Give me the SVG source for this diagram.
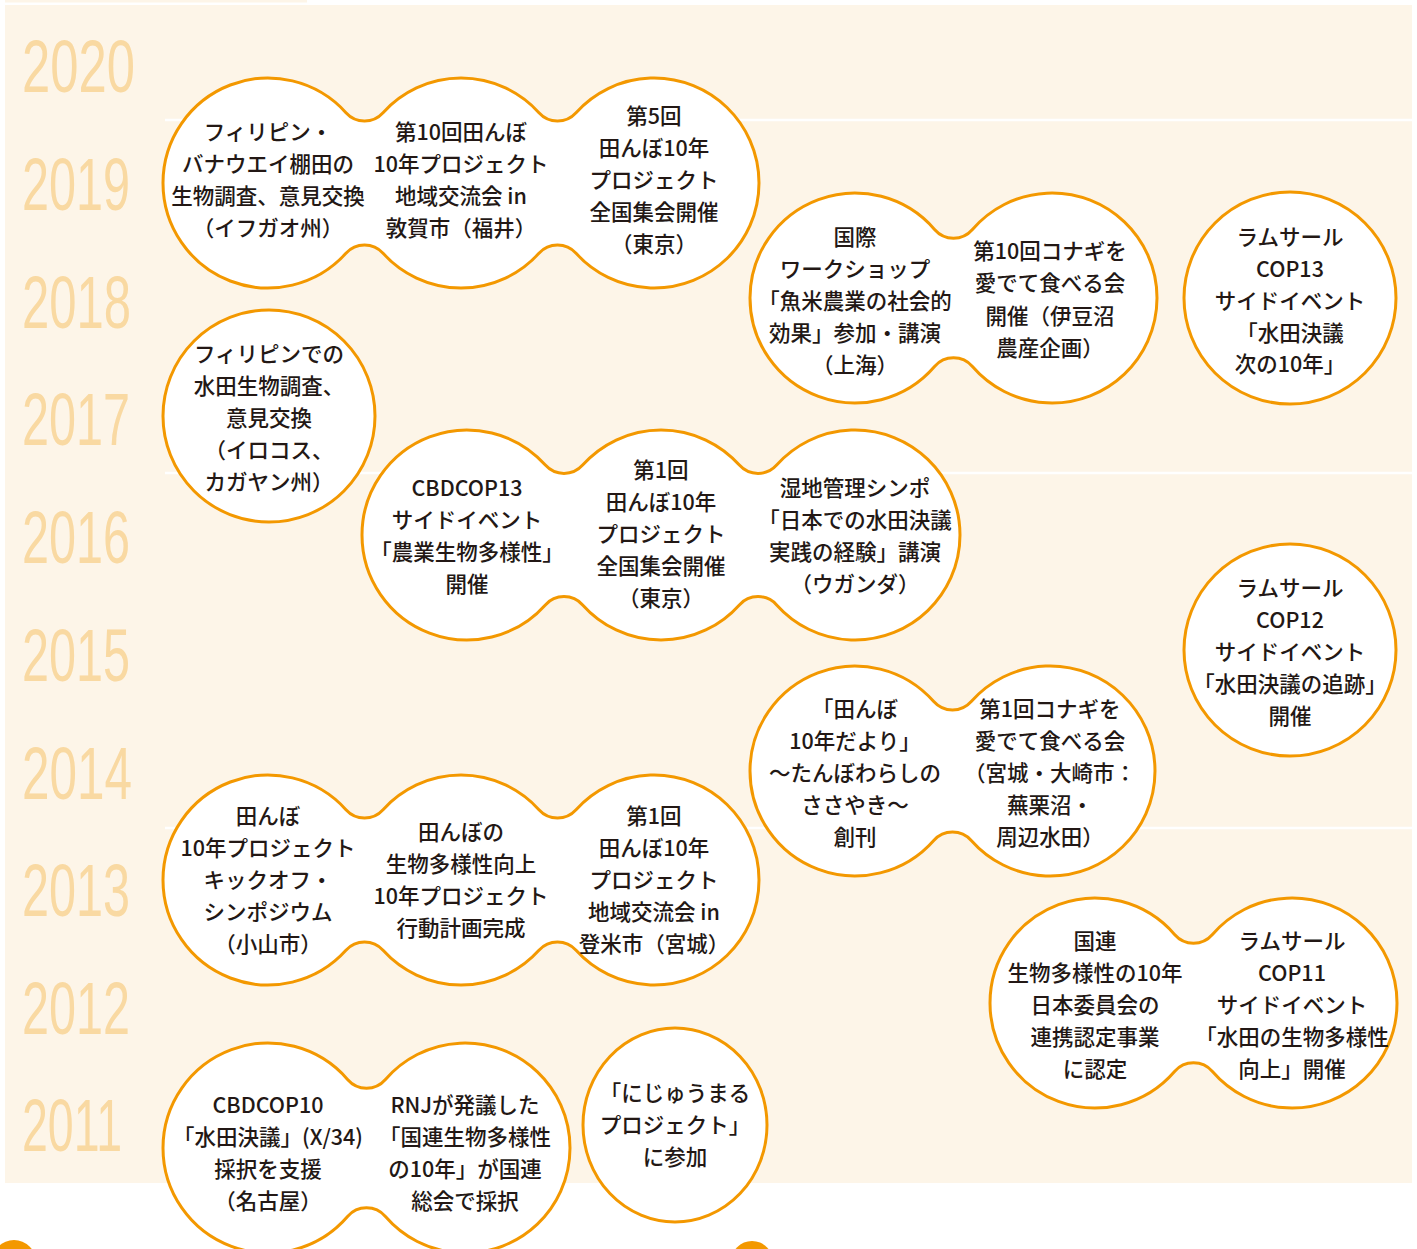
<svg xmlns="http://www.w3.org/2000/svg" width="1417" height="1249" viewBox="0 0 1417 1249">
<style>
.bg{fill:#fdf5e8}
.sep{stroke:#ffffff;stroke-width:2.5}
.yr{font-family:"Liberation Sans",Arial,sans-serif;font-size:75px;fill:#f9d9a2}
.nd{fill:#ffffff;stroke:#f39800;stroke-width:3}
.t{font-family:"Noto Sans CJK JP","Noto Sans",sans-serif;font-size:21.5px;font-weight:500;fill:#231815;text-anchor:middle}
.dot{fill:#f39800}
</style>
<rect width="1417" height="1249" fill="#ffffff"/>
<rect class="bg" x="5" y="0" width="302" height="2.5"/>
<rect class="bg" x="5" y="5" width="1407" height="1178"/>
<g id="separators">
<line class="sep" x1="165" y1="120" x2="1412" y2="120"/>
<line class="sep" x1="165" y1="473" x2="1412" y2="473"/>
<line class="sep" x1="165" y1="828" x2="1412" y2="828"/>
</g>
<g id="years">
<text class="yr" x="22" y="92" textLength="113" lengthAdjust="spacingAndGlyphs">2020</text>
<text class="yr" x="22" y="210" textLength="108" lengthAdjust="spacingAndGlyphs">2019</text>
<text class="yr" x="22" y="328" textLength="109" lengthAdjust="spacingAndGlyphs">2018</text>
<text class="yr" x="22" y="445" textLength="108" lengthAdjust="spacingAndGlyphs">2017</text>
<text class="yr" x="22" y="563" textLength="108" lengthAdjust="spacingAndGlyphs">2016</text>
<text class="yr" x="22" y="681" textLength="108" lengthAdjust="spacingAndGlyphs">2015</text>
<text class="yr" x="22" y="799" textLength="110" lengthAdjust="spacingAndGlyphs">2014</text>
<text class="yr" x="22" y="916" textLength="108" lengthAdjust="spacingAndGlyphs">2013</text>
<text class="yr" x="22" y="1034" textLength="108" lengthAdjust="spacingAndGlyphs">2012</text>
<text class="yr" x="22" y="1151" textLength="100" lengthAdjust="spacingAndGlyphs">2011</text>
</g>
<g id="connectors"></g>
<g id="group-2019">
<path class="nd" d="M 163 183 A105 105 0 0 1 345.94 112.64 A25 25 0 0 0 383.06 112.64 A105 105 0 0 1 538.94 112.64 A25 25 0 0 0 576.06 112.64 A105 105 0 1 1 576.06 253.36 A25 25 0 0 0 538.94 253.36 A105 105 0 0 1 383.06 253.36 A25 25 0 0 0 345.94 253.36 A105 105 0 0 1 163 183 Z"/>
<g id="n2019a" class="t"><text x="268" y="140">フィリピン・</text><text x="268" y="172">バナウエイ棚田の</text><text x="268" y="204">生物調査、意見交換</text><text x="268" y="236">（イフガオ州）</text></g>
<g id="n2019b" class="t"><text x="461" y="140">第10回田んぼ</text><text x="461" y="172">10年プロジェクト</text><text x="461" y="204">地域交流会 in</text><text x="461" y="236">敦賀市（福井）</text></g>
<g id="n2019c" class="t"><text x="654" y="124">第5回</text><text x="654" y="156">田んぼ10年</text><text x="654" y="188">プロジェクト</text><text x="654" y="220">全国集会開催</text><text x="654" y="252">（東京）</text></g>
</g>
<g id="n2018a">
<circle class="nd" cx="269" cy="416" r="106"/>
<g class="t"><text x="269" y="362">フィリピンでの</text><text x="269" y="394">水田生物調査、</text><text x="269" y="426">意見交換</text><text x="269" y="458">（イロコス、</text><text x="269" y="490">カガヤン州）</text></g>
</g>
<g id="group-2018">
<path class="nd" d="M 750 298 A105 105 0 0 1 934.56 229.48 A25 25 0 0 0 972.44 229.48 A105 105 0 1 1 972.44 366.52 A25 25 0 0 0 934.56 366.52 A105 105 0 0 1 750 298 Z"/>
<g id="n2018b" class="t"><text x="855" y="245">国際</text><text x="855" y="277">ワークショップ</text><text x="855" y="309">「魚米農業の社会的</text><text x="855" y="341">効果」参加・講演</text><text x="855" y="373">（上海）</text></g>
<g id="n2018c" class="t"><text x="1050" y="259">第10回コナギを</text><text x="1050" y="291">愛でて食べる会</text><text x="1050" y="324">開催（伊豆沼</text><text x="1050" y="356">農産企画）</text></g>
</g>
<g id="n2018d">
<circle class="nd" cx="1290" cy="298" r="106"/>
<g class="t"><text x="1290" y="245">ラムサール</text><text x="1290" y="277">COP13</text><text x="1290" y="309">サイドイベント</text><text x="1290" y="341">「水田決議</text><text x="1290" y="372">次の10年」</text></g>
</g>
<g id="group-2016">
<path class="nd" d="M 362 535 A105 105 0 0 1 545.35 465.09 A25 25 0 0 0 582.65 465.09 A105 105 0 0 1 739.35 465.09 A25 25 0 0 0 776.65 465.09 A105 105 0 1 1 776.65 604.91 A25 25 0 0 0 739.35 604.91 A105 105 0 0 1 582.65 604.91 A25 25 0 0 0 545.35 604.91 A105 105 0 0 1 362 535 Z"/>
<g id="n2016a" class="t"><text x="467" y="496">CBDCOP13</text><text x="467" y="528">サイドイベント</text><text x="467" y="560">「農業生物多様性」</text><text x="467" y="592">開催</text></g>
<g id="n2016b" class="t"><text x="661" y="478">第1回</text><text x="661" y="510">田んぼ10年</text><text x="661" y="542">プロジェクト</text><text x="661" y="574">全国集会開催</text><text x="661" y="606">（東京）</text></g>
<g id="n2016c" class="t"><text x="855" y="496">湿地管理シンポ</text><text x="855" y="528">「日本での水田決議</text><text x="855" y="560">実践の経験」講演</text><text x="855" y="592">（ウガンダ）</text></g>
</g>
<g id="n2015">
<circle class="nd" cx="1290" cy="650" r="106"/>
<g class="t"><text x="1290" y="596">ラムサール</text><text x="1290" y="628">COP12</text><text x="1290" y="660">サイドイベント</text><text x="1290" y="692">「水田決議の追跡」</text><text x="1290" y="724">開催</text></g>
</g>
<g id="group-2014">
<path class="nd" d="M 750 771 A105 105 0 0 1 933.75 701.55 A25 25 0 0 0 971.25 701.55 A105 105 0 1 1 971.25 840.45 A25 25 0 0 0 933.75 840.45 A105 105 0 0 1 750 771 Z"/>
<g id="n2014a" class="t"><text x="855" y="717">「田んぼ</text><text x="855" y="749">10年だより」</text><text x="855" y="781">〜たんぼわらしの</text><text x="855" y="813">ささやき〜</text><text x="855" y="845">創刊</text></g>
<g id="n2014b" class="t"><text x="1050" y="717">第1回コナギを</text><text x="1050" y="749">愛でて食べる会</text><text x="1050" y="781">（宮城・大崎市：</text><text x="1050" y="813">蕪栗沼・</text><text x="1050" y="845">周辺水田）</text></g>
</g>
<g id="group-2013">
<path class="nd" d="M 163 880 A105 105 0 0 1 345.94 809.64 A25 25 0 0 0 383.06 809.64 A105 105 0 0 1 538.94 809.64 A25 25 0 0 0 576.06 809.64 A105 105 0 1 1 576.06 950.36 A25 25 0 0 0 538.94 950.36 A105 105 0 0 1 383.06 950.36 A25 25 0 0 0 345.94 950.36 A105 105 0 0 1 163 880 Z"/>
<g id="n2013a" class="t"><text x="268" y="824">田んぼ</text><text x="268" y="856">10年プロジェクト</text><text x="268" y="888">キックオフ・</text><text x="268" y="920">シンポジウム</text><text x="268" y="952">（小山市）</text></g>
<g id="n2013b" class="t"><text x="461" y="840">田んぼの</text><text x="461" y="872">生物多様性向上</text><text x="461" y="904">10年プロジェクト</text><text x="461" y="936">行動計画完成</text></g>
<g id="n2013c" class="t"><text x="654" y="824">第1回</text><text x="654" y="856">田んぼ10年</text><text x="654" y="888">プロジェクト</text><text x="654" y="920">地域交流会 in</text><text x="654" y="952">登米市（宮城）</text></g>
</g>
<g id="group-2012">
<path class="nd" d="M 990 1003 A105 105 0 0 1 1174.56 934.48 A25 25 0 0 0 1212.44 934.48 A105 105 0 1 1 1212.44 1071.52 A25 25 0 0 0 1174.56 1071.52 A105 105 0 0 1 990 1003 Z"/>
<g id="n2012a" class="t"><text x="1095" y="949">国連</text><text x="1095" y="981">生物多様性の10年</text><text x="1095" y="1013">日本委員会の</text><text x="1095" y="1045">連携認定事業</text><text x="1095" y="1077">に認定</text></g>
<g id="n2012b" class="t"><text x="1292" y="949">ラムサール</text><text x="1292" y="981">COP11</text><text x="1292" y="1013">サイドイベント</text><text x="1292" y="1045">「水田の生物多様性</text><text x="1292" y="1077">向上」開催</text></g>
</g>
<g id="group-2011">
<path class="nd" d="M 163 1148 A105 105 0 0 1 347.56 1079.48 A25 25 0 0 0 385.44 1079.48 A105 105 0 1 1 385.44 1216.52 A25 25 0 0 0 347.56 1216.52 A105 105 0 0 1 163 1148 Z"/>
<g id="n2011a" class="t"><text x="268" y="1113">CBDCOP10</text><text x="268" y="1145">「水田決議」(X/34)</text><text x="268" y="1177">採択を支援</text><text x="268" y="1209">（名古屋）</text></g>
<g id="n2011b" class="t"><text x="465" y="1113">RNJが発議した</text><text x="465" y="1145">「国連生物多様性</text><text x="465" y="1177">の10年」が国連</text><text x="465" y="1209">総会で採択</text></g>
</g>
<g id="n2011c">
<ellipse class="nd" cx="675" cy="1125" rx="92" ry="97"/>
<g class="t"><text x="675" y="1101">「にじゅうまる</text><text x="675" y="1133">プロジェクト」</text><text x="675" y="1165">に参加</text></g>
</g>
<circle class="dot" cx="14" cy="1262" r="22"/>
<circle class="dot" cx="752" cy="1262" r="21"/>
</svg>
